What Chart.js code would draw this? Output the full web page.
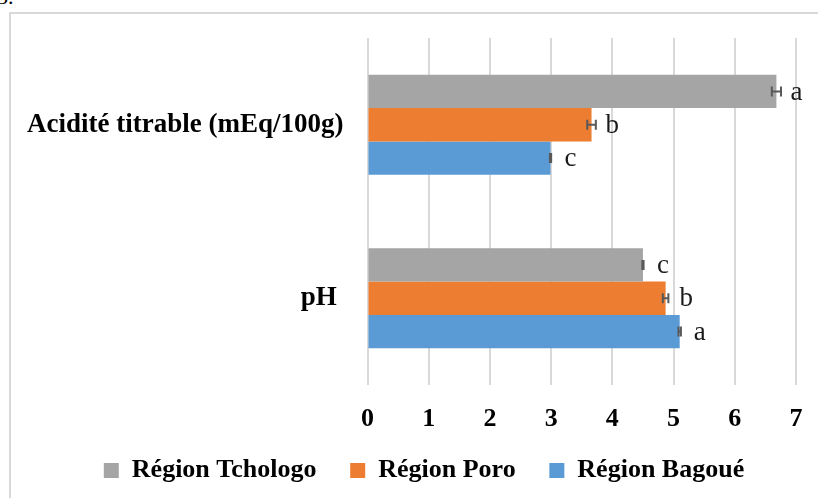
<!DOCTYPE html>
<html>
<head>
<meta charset="utf-8">
<script src="https://cdn.jsdelivr.net/npm/chart.js@4/dist/chart.umd.min.js"></script>
<style>
  html, body { margin: 0; padding: 0; background: #ffffff; overflow: hidden; width: 818px; height: 498px; }
  #frame { position: absolute; left: 9px; top: 12px; width: 900px; height: 600px; border: 2px solid #d9d9d9; box-sizing: border-box; }
  #num { position: absolute; left: -3px; top: -14px; font: 22px/1 "Liberation Serif", serif; color: #000; }
  #wrap { position: absolute; left: 0; top: 0; width: 818px; height: 498px; }
</style>
</head>
<body>
<div id="num">3.</div>
<div id="frame"></div>
<div id="wrap"><canvas id="c" width="818" height="498"></canvas></div>
<script>
// ---- data ----
const categories = ['Acidité titrable (mEq/100g)', 'pH '];
const seriesNames = ['Région Tchologo', 'Région Poro', 'Région Bagoué'];
const tchologo = [6.68, 4.50];
const poro = [3.66, 4.87];
const bagoue = [2.99, 5.10];
const tchologoErr = [0.075, 0.01];
const poroErr = [0.07, 0.045];
const bagoueErr = [0.01, 0.02];
const tchologoLetters = ['a', 'c'];
const poroLetters = ['b', 'b'];
const bagoueLetters = ['c', 'a'];
const xMin = 0, xMax = 7, xStep = 1;

const colors = ['#A5A5A5', '#ED7D31', '#5B9BD5'];
const values = [tchologo, poro, bagoue];
const errors = [tchologoErr, poroErr, bagoueErr];
const letters = [tchologoLetters, poroLetters, bagoueLetters];

const datasets = seriesNames.map((name, i) => ({
  label: name,
  data: values[i],
  errors: errors[i],
  letters: letters[i],
  backgroundColor: colors[i],
  borderWidth: 0,
  categoryPercentage: 0.576,
  barPercentage: 1.0
}));

const legendShift = {
  id: 'legendShift',
  afterLayout(chart) {
    const lg = chart.legend;
    if (lg) { lg.left += 16; lg.right += 16; lg.top -= 11.2; lg.bottom -= 11.2; }
  }
};

const errorAndLabels = {
  id: 'errorAndLabels',
  afterDatasetsDraw(chart) {
    const ctx = chart.ctx;
    const xs = chart.scales.x;
    chart.data.datasets.forEach((ds, di) => {
      const meta = chart.getDatasetMeta(di);
      meta.data.forEach((bar, j) => {
        const v = ds.data[j];
        const e = ds.errors[j];
        const y = bar.y;
        const x0 = xs.getPixelForValue(v - e);
        const x1 = xs.getPixelForValue(v + e);
        ctx.save();
        ctx.strokeStyle = '#595959';
        ctx.lineWidth = 2;
        ctx.beginPath();
        ctx.moveTo(x0, y); ctx.lineTo(x1, y);
        ctx.moveTo(x0, y - 5); ctx.lineTo(x0, y + 5);
        ctx.moveTo(x1, y - 5); ctx.lineTo(x1, y + 5);
        ctx.stroke();
        ctx.fillStyle = '#1a1a1a';
        ctx.font = '27px "Liberation Serif", serif';
        ctx.textAlign = 'left';
        ctx.textBaseline = 'middle';
        ctx.fillText(ds.letters[j], xs.getPixelForValue(v) + 14, y + 1);
        ctx.restore();
      });
    });
  }
};

new Chart(document.getElementById('c'), {
  type: 'bar',
  data: { labels: categories, datasets: datasets },
  options: {
    indexAxis: 'y',
    responsive: false,
    animation: false,
    layout: { padding: { left: 20, right: 22, top: 38, bottom: -6.7 } },
    plugins: {
      tooltip: { enabled: false },
      legend: {
        position: 'bottom',
        labels: {
          boxWidth: 15,
          boxHeight: 15,
          padding: 33.7,
          color: '#000',
          font: { family: '"Liberation Serif", serif', size: 26, weight: 'bold' }
        }
      }
    },
    scales: {
      x: {
        min: xMin, max: xMax,
        ticks: { stepSize: xStep, padding: 19, color: '#000', font: { family: '"Liberation Serif", serif', size: 26, weight: 'bold' } },
        grid: { color: '#d9d9d9', lineWidth: 2, drawTicks: false },
        border: { display: false },
        afterFit(scale) { scale.height = 50; scale.paddingLeft = 0; scale.paddingRight = 0; }
      },
      y: {
        ticks: { padding: 24, color: '#000', font: { family: '"Liberation Serif", serif', size: 27, weight: 'bold' } },
        grid: { display: false, drawTicks: false },
        border: { display: false },
        afterFit(scale) { scale.width = 347.5; scale.paddingTop = 0; scale.paddingBottom = 0; }
      }
    }
  },
  plugins: [legendShift, errorAndLabels]
});
</script>
</body>
</html>
